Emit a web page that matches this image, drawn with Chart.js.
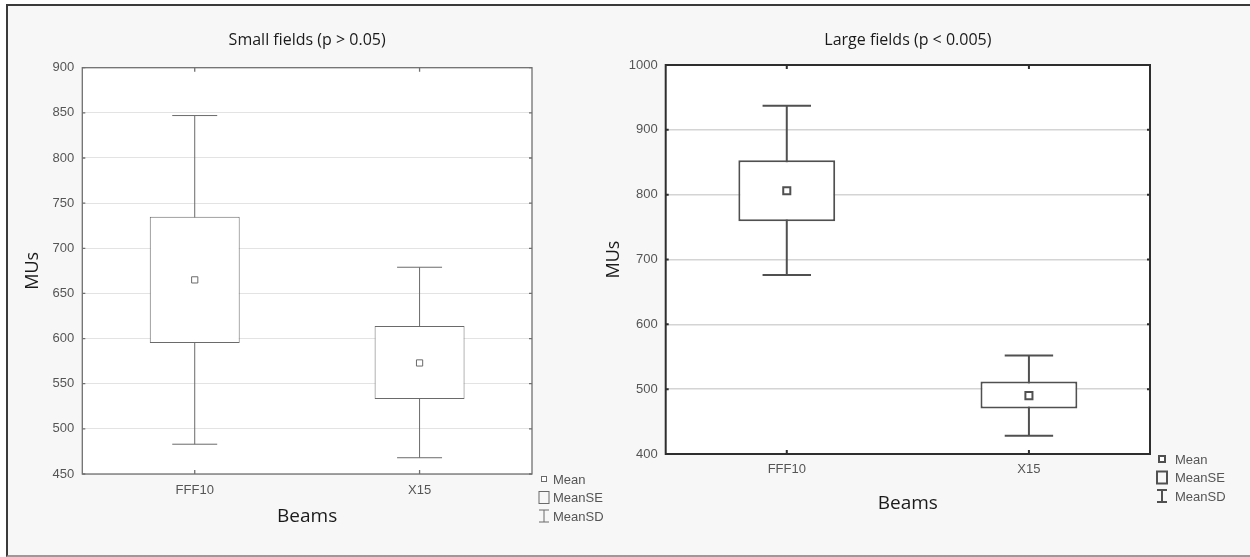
<!DOCTYPE html>
<html>
<head>
<meta charset="utf-8">
<title>MUs by beam</title>
<script src="https://cdn.jsdelivr.net/npm/chart.js@4.4.1/dist/chart.umd.min.js"></script>
<style>
  html, body { margin: 0; padding: 0; background: #fff; }
  #frame {
    position: absolute; left: 6px; top: 4px; width: 1260px; height: 549px;
    border: 2px solid #3a3a3a; border-bottom-color: #9a9a9a; border-right: none;
    background: #f7f7f7;
  }
  #smallChart { position: absolute; left: 8px; top: 8px; }
  #largeChart { position: absolute; left: 590px; top: 8px; }
</style>
</head>
<body>
<div id="frame"></div>
<canvas id="smallChart" width="612" height="544"></canvas>
<canvas id="largeChart" width="655" height="544"></canvas>
<script>
"use strict";

var categories = ['FFF10', 'X15'];
var legendNames = ['Mean', 'MeanSE', 'MeanSD'];

// Small fields (p > 0.05)
var smallMean = [665, 573];
var smallSeLow = [595, 533];
var smallSeHigh = [735, 614];
var smallSdLow = [483, 468];
var smallSdHigh = [847, 679];
var smallTicks = [450, 900, 50]; // min, max, step

// Large fields (p < 0.005)
var largeMean = [806, 490];
var largeSeLow = [759, 470];
var largeSeHigh = [853, 512];
var largeSdLow = [676, 428];
var largeSdHigh = [937, 552];
var largeTicks = [400, 1000, 100];

var tickFont = "'Liberation Sans', Arial, sans-serif";
var labelFont = "'Open Sans', 'Noto Sans', sans-serif";

// look of each panel
var smallStyle = {
	line: '#6a6a6a', width: 1, frame: '#707070', frameWidth: 1.3,
	grid: '#e3e3e3', gridWidth: 1, meanRadius: 4.4, meanBorder: 1,
	legendSquare: 5, legendText: 21,
	padRight: 88, yWidth: 74.3, xHeight: 78,
	titleTop: 22.4, titleBottom: 18.1, xTickPad: 9, beamsPad: 23.9, musPad: 14.5
};
var largeStyle = {
	line: '#505050', width: 2, frame: '#2e2e2e', frameWidth: 2,
	grid: '#d4d4d4', gridWidth: 1.5, meanRadius: 5, meanBorder: 2,
	legendSquare: 6, legendText: 25,
	padRight: 95, yWidth: 75.7, xHeight: 98,
	titleTop: 22.4, titleBottom: 15.4, xTickPad: 8, beamsPad: 37.3, musPad: 13.2
};

// white plot area, SD whiskers, frame with inner ticks and the little legend
function boxPlotPlugin(st, sdLow, sdHigh) {
	return {
		id: 'boxplot',
		beforeDraw: function (chart) {
			var a = chart.chartArea;
			var ctx = chart.ctx;
			ctx.save();
			ctx.fillStyle = '#fff';
			ctx.fillRect(a.left, a.top, a.right - a.left, a.bottom - a.top);
			ctx.restore();
		},
		beforeDatasetsDraw: function (chart) {
			var ctx = chart.ctx;
			var y = chart.scales.y;
			var boxes = chart.getDatasetMeta(0).data;
			ctx.save();
			ctx.strokeStyle = st.line;
			ctx.lineWidth = st.width;
			boxes.forEach(function (bar, i) {
				var cap = bar.width / 4;
				var top = y.getPixelForValue(sdHigh[i]);
				var bot = y.getPixelForValue(sdLow[i]);
				ctx.beginPath();
				ctx.moveTo(bar.x, top); ctx.lineTo(bar.x, bot);
				ctx.moveTo(bar.x - cap, top); ctx.lineTo(bar.x + cap, top);
				ctx.moveTo(bar.x - cap, bot); ctx.lineTo(bar.x + cap, bot);
				ctx.stroke();
			});
			ctx.restore();
		},
		afterDraw: function (chart) {
			var a = chart.chartArea;
			var ctx = chart.ctx;
			var x = chart.scales.x;
			var y = chart.scales.y;
			ctx.save();
			ctx.strokeStyle = st.frame;
			ctx.lineWidth = st.frameWidth;
			ctx.strokeRect(a.left, a.top, a.right - a.left, a.bottom - a.top);

			// small inward ticks
			ctx.beginPath();
			x.ticks.forEach(function (t, i) {
				var px = x.getPixelForTick(i);
				ctx.moveTo(px, a.top); ctx.lineTo(px, a.top + 4);
				ctx.moveTo(px, a.bottom); ctx.lineTo(px, a.bottom - 4);
			});
			y.ticks.forEach(function (t, i) {
				var py = y.getPixelForTick(i);
				ctx.moveTo(a.left, py); ctx.lineTo(a.left + 3, py);
				ctx.moveTo(a.right, py); ctx.lineTo(a.right - 3, py);
			});
			ctx.stroke();

			// legend
			var lx = a.right + 12;
			var tx = a.right + st.legendText;
			var rows = [a.bottom + 5, a.bottom + 23.5, a.bottom + 42];
			var m = st.legendSquare;
			ctx.strokeStyle = st.line;
			ctx.lineWidth = st.width;
			ctx.fillStyle = '#fff';
			ctx.fillRect(lx - m / 2, rows[0] - m / 2, m, m);
			ctx.strokeRect(lx - m / 2, rows[0] - m / 2, m, m);
			ctx.strokeRect(lx - 5, rows[1] - 6, 10, 12);
			ctx.beginPath();
			ctx.moveTo(lx - 5, rows[2] - 6); ctx.lineTo(lx + 5, rows[2] - 6);
			ctx.moveTo(lx, rows[2] - 6); ctx.lineTo(lx, rows[2] + 6);
			ctx.moveTo(lx - 5, rows[2] + 6); ctx.lineTo(lx + 5, rows[2] + 6);
			ctx.stroke();

			ctx.fillStyle = '#555';
			ctx.font = '13px ' + tickFont;
			ctx.textAlign = 'left';
			ctx.textBaseline = 'middle';
			legendNames.forEach(function (name, i) {
				ctx.fillText(name, tx, rows[i] + 1);
			});
			ctx.restore();
		}
	};
}

function MakeChart(canvasId, title, mean, seLow, seHigh, sdLow, sdHigh, ticks, st) {
	var boxes = categories.map(function (c, i) {
		return [seLow[i], seHigh[i]];
	});

	return new Chart(document.getElementById(canvasId), {
		type: 'bar',
		data: {
			labels: categories,
			datasets: [{
				label: 'MeanSE',
				data: boxes,
				backgroundColor: '#fff',
				borderColor: st.line,
				borderWidth: st.width,
				borderSkipped: false,
				barPercentage: 0.5,
				categoryPercentage: 0.8,
				order: 2
			}, {
				type: 'line',
				label: 'Mean',
				data: mean,
				showLine: false,
				pointStyle: 'rect',
				pointRadius: st.meanRadius,
				pointBorderWidth: st.meanBorder,
				pointBackgroundColor: '#fff',
				pointBorderColor: st.line,
				order: 1
			}]
		},
		options: {
			responsive: false,
			animation: false,
			layout: { padding: { left: 0, right: st.padRight, top: 0, bottom: 0 } },
			plugins: {
				legend: { display: false },
				tooltip: { enabled: false },
				title: {
					display: true,
					text: title,
					fullSize: false,
					color: '#1a1a1a',
					font: { family: labelFont, size: 16, weight: 'normal' },
					padding: { top: st.titleTop, bottom: st.titleBottom }
				}
			},
			scales: {
				x: {
					grid: { display: false, drawTicks: false },
					border: { display: false },
					ticks: { color: '#555', font: { family: tickFont, size: 13 }, padding: st.xTickPad },
					title: {
						display: true,
						text: 'Beams',
						color: '#1a1a1a',
						font: { family: labelFont, size: 19 },
						padding: { top: 0, bottom: st.beamsPad }
					},
					afterFit: function (scale) { scale.height = st.xHeight; }
				},
				y: {
					min: ticks[0],
					max: ticks[1],
					ticks: {
						stepSize: ticks[2],
						color: '#555',
						font: { family: tickFont, size: 13 },
						padding: 8,
						callback: function (value) { return String(value); }
					},
					grid: { color: st.grid, lineWidth: st.gridWidth, drawTicks: false },
					border: { display: false },
					title: {
						display: true,
						text: 'MUs',
						color: '#1a1a1a',
						font: { family: labelFont, size: 18 },
						padding: { top: st.musPad, bottom: 0 }
					},
					afterFit: function (scale) { scale.width = st.yWidth; }
				}
			}
		},
		plugins: [boxPlotPlugin(st, sdLow, sdHigh)]
	});
}

MakeChart('smallChart', 'Small fields (p > 0.05)', smallMean, smallSeLow, smallSeHigh,
	smallSdLow, smallSdHigh, smallTicks, smallStyle);
MakeChart('largeChart', 'Large fields (p < 0.005)', largeMean, largeSeLow, largeSeHigh,
	largeSdLow, largeSdHigh, largeTicks, largeStyle);
</script>
</body>
</html>
